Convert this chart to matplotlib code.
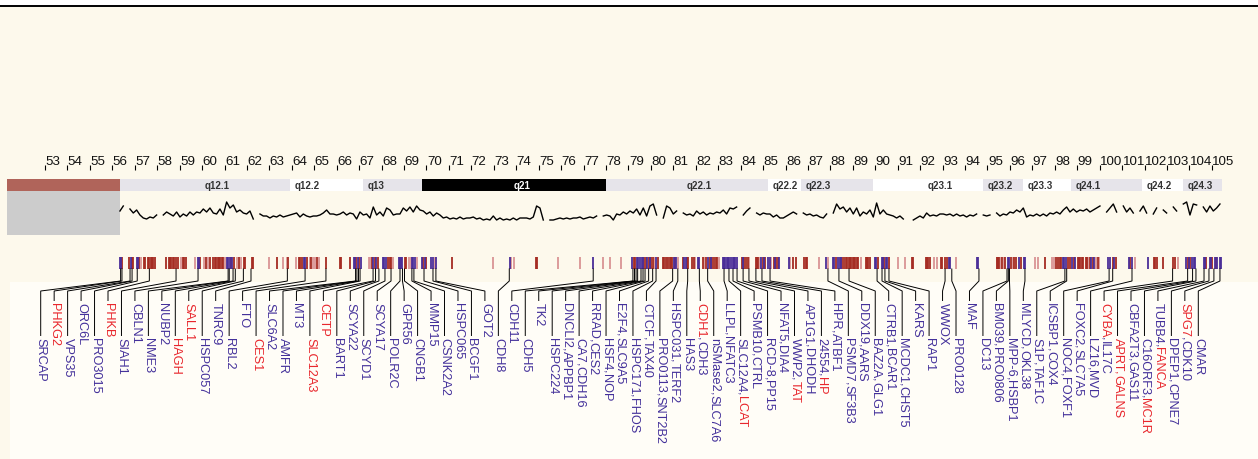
import numpy as np
import matplotlib
matplotlib.use('Agg')
import matplotlib.pyplot as plt
from matplotlib.patches import Rectangle
from matplotlib import font_manager as fm

nan = np.nan

# ---------------- data ----------------
tick_values = list(range(53, 106))

cen_start, cen_end = 51.31, 56.34
band_names = ['q12.1', 'q12.2', 'q13', 'q21', 'q22.1', 'q22.2', 'q22.3',
              'q23.1', 'q23.2', 'q23.3', 'q24.1', 'q24.2', 'q24.3']
band_starts = [56.34, 63.92, 67.17, 69.80, 78.00, 85.22, 86.69,
               89.90, 94.80, 96.58, 98.72, 101.89, 103.71]
band_ends = [63.92, 67.17, 69.80, 78.00, 85.22, 86.69, 89.90,
             94.80, 96.58, 98.72, 101.89, 103.71, 105.45]
band_stains = ['gpos', 'gneg', 'gpos', 'gpos100', 'gpos', 'gneg', 'gpos',
               'gneg', 'gpos', 'gneg', 'gpos', 'gneg', 'gpos']

signal_start, signal_end = 56.34, 105.36
signal_values = [
    24, 29, nan, 26, 22, 25, 20, 17, 16, 18, 17, 20, nan, 20, 23, 21, 19, 23, 18, 21,
    19, 23, 20, 23, 22, 26, 23, 27, 22, 21, 26, 20, 33, 27, 30, 23, 25, 22, 21, 24,
    16, nan, 21, 19, 19, 17, 19, 18, 20, 18, 19, 20, 21, 22, 18, 21, 19, 18, 19, 19,
    20, 22, 25, 21, 21, 20,
    21, 23, 20, 22, 21, 16, 23, 20, 21, 17, 28, 20, 23, 19, 27, 25, 20, 21, 21, 27,
    24, 28, 23, 29, 25, 24, 21, 23, 19, 22, 20, 17, 18, 16, 17, 16, 18, 16, 17, 17,
    18, 16, 17, 15, 16, 15, 19, 15, 17, 15, 16, 15, 17, 15, 17, 17, 17, 16, 18, 29,
    27, 15, nan, 15, 15, 16,
    17, 16, 17, 16, 17, 17, 18, 16, 17, 18, 17, 19, nan, 19, 20, 19, 15, 21, 20, 23,
    21, 24, 22, 26, 20, 27, 19, 29, 31, 20, nan, 17, 29, 27, 21, 24, nan, 22, 20, 21,
    19, 24, 21, 23, 20, 22, 21, 23, 22, 25, 21, 27, 26, 28, nan, 20, 24, 27, nan, 22,
    20, 22, 21, 21, 18, 20,
    17, 17, 19, 21, 23, 21, nan, 22, 20, 21, 19, 20, 18, 17, 21, nan, 22, 31, 26, 28,
    23, 27, 21, 27, 19, 23, 21, 25, 18, 32, 21, 25, 21, 20, 19, 17, 19, 16, nan, nan,
    15, 17, 19, 17, 22, 19, 20, 19, 21, 21, 20, 21, 19, 21, 19, 20, 18, 20, 19, 21,
    nan, 20, 19, 20, nan, 22,
    19, 21, 20, 23, 22, 25, 23, 27, 18, 20, 19, 21, 19, 21, 19, 22, 21, 23, 21, 25,
    28, 23, 26, 23, 25, 24, 26, 23, 25, 27, 29, nan, 23, 27, 31, 23, nan, 29, 23, 27,
    22, nan, 24, 29, 22, nan, 21, 27, nan, 25, 22, nan, 28, 24, nan, 31, 33, 20, 31, 30,
    nan, 28, 23, 29, 24, 27, 31,
]

marks_dark = [
    56.45, 56.73, 56.86, 56.94, 57.20, 57.41, 57.47, 57.59, 57.65, 57.71, 57.77, 57.83, 57.89,
    58.39, 58.51, 58.57, 58.63, 58.69, 58.76, 58.85, 58.93, 59.13, 59.19, 59.28, 59.92, 60.17,
    60.35, 60.47, 60.57, 60.63, 60.69, 60.75, 60.81, 60.89, 60.95, 61.29, 61.42, 61.63, 61.85,
    61.91, 62.21, 62.28, 63.32, 63.83, 64.32, 64.38, 64.44, 64.69, 64.87, 65.13, 65.52,
    66.15, 66.21, 66.59, 66.87, 66.99, 67.57, 67.69, 67.84, 68.30, 68.36, 68.43, 69.03, 69.10,
    69.86, 69.98, 71.14, 74.89, 74.94,
    79.23, 79.29, 79.71, 79.77, 79.90, 80.02, 80.08, 80.30, 80.54, 80.60, 80.66, 80.78, 80.84,
    80.90, 80.95, 81.07, 81.43, 81.61, 81.67, 81.85, 81.91, 82.32, 82.45, 82.62, 82.74, 82.83,
    82.88, 82.94, 84.04, 84.16, 84.25, 84.31, 84.67, 84.73, 84.79, 84.98, 85.10, 85.47, 85.59,
    85.65,
    86.35, 86.47, 86.84, 86.90, 86.97, 88.23, 88.53, 88.62, 88.68, 88.75, 88.81, 88.87, 88.93,
    88.99, 89.05, 89.11, 89.17, 89.24, 89.57, 89.63, 89.69, 89.78, 90.14, 90.40, 90.60, 91.62,
    91.68, 92.24, 92.30, 92.36, 92.44, 92.93, 92.99, 93.11, 93.18, 95.41, 95.48,
    95.50, 95.66, 95.79, 96.05, 96.20, 96.29, 96.51, 97.55, 98.04, 98.16, 98.22, 98.28, 98.60,
    98.66, 98.84, 99.02, 99.08, 99.14, 99.21, 99.27, 99.37, 99.43, 99.55, 99.69, 99.92, 100.59,
    100.71, 101.36, 102.42, 102.48, 102.55, 102.80, 103.26, 103.34, 103.92, 104.04, 104.75,
    105.02, 105.20,
]
marks_light = [
    57.28, 59.05, 59.70, 60.08, 60.26, 61.01, 61.54, 61.72, 63.00, 63.59, 63.77, 64.18, 64.79,
    64.96, 65.04, 65.22,
    67.42, 67.48, 68.51, 69.22, 69.29, 69.58, 70.38, 72.95, 73.76, 73.91, 75.84,
    76.84, 77.85, 78.18, 78.68, 80.14, 80.72, 81.21, 81.98, 82.38, 83.02, 84.37, 84.85, 85.35,
    86.18, 87.48, 87.88, 89.38, 91.00, 91.31, 92.61, 92.73, 93.61, 95.42,
    95.59, 95.74, 96.12, 97.13, 97.25, 97.89, 97.96, 99.49, 99.85, 99.98, 101.57, 103.50,
]
marks_purple = [
    56.34, 56.39, 56.82, 57.08, 57.13, 59.80, 59.86, 61.11, 61.17, 61.23, 61.35, 64.52, 64.58,
    66.76, 66.81, 66.93, 67.07, 67.63, 67.75, 68.05, 68.12, 68.20, 68.77, 68.82, 68.86, 68.91,
    69.35, 69.41, 69.47, 69.80, 69.92, 70.22, 70.27, 70.44, 73.70,
    77.43, 79.17, 79.37, 79.43, 79.53, 79.59, 79.65, 79.84, 79.96, 80.24, 81.01, 81.13, 81.49,
    81.55, 82.08, 82.14, 82.56, 82.68, 83.20, 83.26, 83.32, 83.38, 83.43, 83.49, 83.58, 83.64,
    83.70, 83.76, 83.82, 84.10, 84.92, 85.04, 85.23, 85.29, 85.53, 85.71,
    86.14, 87.82, 88.11, 88.18, 88.35, 88.41, 88.47, 89.99, 90.03, 90.28, 90.34, 90.48, 90.54,
    93.28, 93.34, 94.52, 94.56,
    95.90, 95.96, 96.42, 96.64, 96.69, 98.36, 98.42, 98.48, 98.78, 98.90, 99.63, 99.75, 100.38,
    100.44, 100.65, 101.30, 101.42, 102.15, 103.86, 103.98, 104.10, 104.19, 104.25, 104.63,
    104.69, 104.90, 104.96, 105.14, 105.25, 105.34, 105.40,
]

gene_labels = [
    "SRCAP", "PHKG2", "VPS35", "ORC6L", "PRO3015", "PHKB", "SIAH1", "CBLN1", "NME3", "NUBP2",
    "HAGH", "SALL1", "HSPC057", "TNRC9", "RBL2", "FTO", "CES1", "SLC6A2", "AMFR", "MT3",
    "SLC12A3", "CETP", "BART1", "SCYA22", "SCYD1", "SCYA17", "POLR2C", "GPR56", "CNGB1", "MMP15",
    "CSNK2A2", "HSPC065", "BCGF1", "GOT2", "CDH8", "CDH11", "CDH5", "TK2", "HSPC224",
    "DNCLI2,APPBP1", "CA7,CDH16", "RRAD,CES2", "HSF4,NOP", "E2F4,SLC9A5", "HSPC171,FHOS",
    "CTCF,TAX40", "PRO0113,SNT2B2", "HSPC031,TERF2", "HAS3", "CDH1,CDH3", "nSMase2,SLC7A6",
    "LLPL,NFATC3", "SLC12A4,LCAT", "PSMB10,CTRL", "RCD-8,PP15", "NFAT5,DIA4", "WWP2,TAT",
    "AP1G1,DHODH", "24554,HP", "HPR,ATBF1", "PSMD7,SF3B3", "DDX19,AARS", "BAZ2A,GLG1",
    "CTRB1,BCAR1", "MCDC1,CHST5", "KARS", "RAP1", "WWOX", "PRO0128", "MAF", "DC13",
    "BM039,PRO0806", "MPP-6,HSBP1", "MLYCD,OKL38", "S1P,TAF1C", "ICSBP1,COX4", "NOC4,FOXF1",
    "FOXC2,SLC7A5", "LZ16,MVD", "CYBA,IL17C", "APRT,GALNS", "CBFA2T3,GAS11", "C16ORF3,MC1R",
    "TUBB4,FANCA", "DPEP1,CPNE7", "SPG7,CDK10", "CMAR",
]
gene_label_pos = [
    56.37, 56.43, 56.79, 56.88, 57.11, 57.65, 58.84, 59.82, 61.16, 61.21,
    61.38, 61.48, 61.84, 62.18, 63.80, 64.59, 65.52, 66.84, 66.90, 66.97,
    67.04, 67.62, 67.73, 67.88, 68.15, 68.42, 68.82, 68.93, 69.02, 69.35,
    69.44, 69.89, 70.29, 70.42, 73.69, 77.43, 79.20, 79.27, 79.34, 79.41,
    79.56, 79.65, 79.74, 79.90, 80.08, 80.23, 80.97, 81.20, 81.64, 82.16,
    82.53, 83.26, 83.48, 83.66, 83.84, 84.11, 84.37, 84.68, 84.95, 85.31,
    87.89, 88.38, 88.83, 90.08, 90.30, 90.43, 90.61, 93.11, 93.41, 94.62,
    95.87, 95.93, 95.98, 96.67, 98.45, 98.53, 100.42, 100.58, 101.44, 103.25,
    103.92, 104.14, 104.29, 104.65, 104.87, 105.09, 105.36,
]
disease_genes = {"PHKG2", "PHKB", "HAGH", "SALL1", "CES1", "SLC12A3", "CETP", "CDH1", "LCAT",
                 "TAT", "HP", "CYBA", "APRT", "GALNS", "MC1R", "FANCA", "SPG7"}

# ---------------- layout / style ----------------
W, H, DPI = 1258, 460, 100
PX_PER_MB = 22.44
XMIN = 53 - 45 / PX_PER_MB
XMAX = XMIN + W / PX_PER_MB
PX = 1 / PX_PER_MB

CREAM = '#fdf9ec'
PANEL = '#fffdf7'
BLUE = '#43309a'
RED = '#e8262c'
DARK = '#a52c22'
LIGHT = '#d99494'
PURPLE = '#4a2e98'
BAND_COL = {'gpos': '#e6e4ea', 'gneg': '#ffffff', 'gpos100': '#000000'}


def has_font(name):
    try:
        fm.findfont(fm.FontProperties(family=name), fallback_to_default=False)
        return True
    except Exception:
        return False


SANS = 'Liberation Sans' if has_font('Liberation Sans') else 'DejaVu Sans'
NARROW = 'Liberation Sans Narrow' if has_font('Liberation Sans Narrow') else SANS

fig = plt.figure(figsize=(W / DPI, H / DPI), dpi=DPI)
fig.patch.set_facecolor('white')
ax = fig.add_axes([0, 0, 1, 1])
ax.set_xlim(XMIN, XMAX)
ax.set_ylim(H, 0)
ax.axis('off')

# backgrounds
ax.add_patch(Rectangle((XMIN, 7), XMAX - XMIN, H - 7, facecolor=CREAM, edgecolor='none', zorder=0))
ax.add_patch(Rectangle((XMIN + 10 * PX, 283), XMAX - XMIN, H - 283, facecolor=PANEL,
                       edgecolor='none', zorder=0.5))
ax.plot([XMIN, XMAX], [7, 7], color='black', lw=1.4, zorder=3, solid_capstyle='butt')

# scale ticks
ax.vlines(tick_values, 166, 170.5, color='black', lw=0.8, zorder=3)
tick_fs = 10 if NARROW != SANS else 9.6
for v in tick_values:
    ax.text(v + 0.4 * PX, 165, str(v), ha='left', va='baseline', fontsize=tick_fs,
            family=NARROW, color='#111111', zorder=3)

# ideogram
ax.add_patch(Rectangle((cen_start, 180), cen_end - cen_start, 12, facecolor='#b0645a',
                       edgecolor='none', zorder=2))
ax.add_patch(Rectangle((cen_start, 192), cen_end - cen_start, 44, facecolor='#cccccc',
                       edgecolor='none', zorder=2))
for name, s, e, st in zip(band_names, band_starts, band_ends, band_stains):
    ax.add_patch(Rectangle((s, 180), e - s, 12, facecolor=BAND_COL[st], edgecolor='none', zorder=2))
    width_px = (e - s) * PX_PER_MB
    lx = (s + e) / 2 if width_px > 100 else s + 5 * PX
    ax.text(lx, 186.3, name, ha='left', va='center', fontsize=7, fontweight='bold',
            family=SANS, color='white' if st == 'gpos100' else '#333333', zorder=3)

# signal track
ax2 = fig.add_axes([0, (H - 236) / H, 1, 44 / H])
ax2.set_xlim(XMIN, XMAX)
ax2.set_ylim(0, 44)
ax2.axis('off')
ax2.patch.set_alpha(0)
sig_x = np.linspace(signal_start, signal_end, len(signal_values))
ax2.plot(sig_x, signal_values, color='black', lw=1.0)

# gene marks
ax.vlines(marks_light, 258, 270, colors=LIGHT, lw=1.3, zorder=2)
ax.vlines(marks_dark, 258, 270, colors=DARK, lw=1.3, zorder=2.1)
ax.vlines(marks_purple, 258, 270, colors=PURPLE, lw=1.3, zorder=2.2)

# labels with leader lines
n = len(gene_labels)
label_x = np.linspace(40.7 / PX_PER_MB + XMIN, 1198.3 / PX_PER_MB + XMIN, n)
fig.canvas.draw()
renderer = fig.canvas.get_renderer()
for i, (lab, mpos, lx) in enumerate(zip(gene_labels, gene_label_pos, label_x)):
    top = 338 if i % 2 == 0 else 303
    ax.plot([mpos, mpos, lx, lx], [270, 282, 292, top - 1.5], color='black', lw=0.7,
            zorder=2.5, solid_joinstyle='miter')
    genes = lab.split(',')
    parts = []
    for j, g in enumerate(genes):
        gc = RED if g in disease_genes else BLUE
        parts.append((g, gc))
        if j < len(genes) - 1:
            nxt = RED if genes[j + 1] in disease_genes else BLUE
            parts.append((',', RED if (gc == RED and nxt == RED) else BLUE))
    y = top
    for txt, col in parts:
        t = ax.text(lx, y, txt, rotation=270, ha='center', va='top', fontsize=9.2,
                    family=SANS, color=col, zorder=3)
        bb = t.get_window_extent(renderer)
        y += bb.height

fig.savefig('out.png', dpi=DPI, facecolor=fig.get_facecolor())
